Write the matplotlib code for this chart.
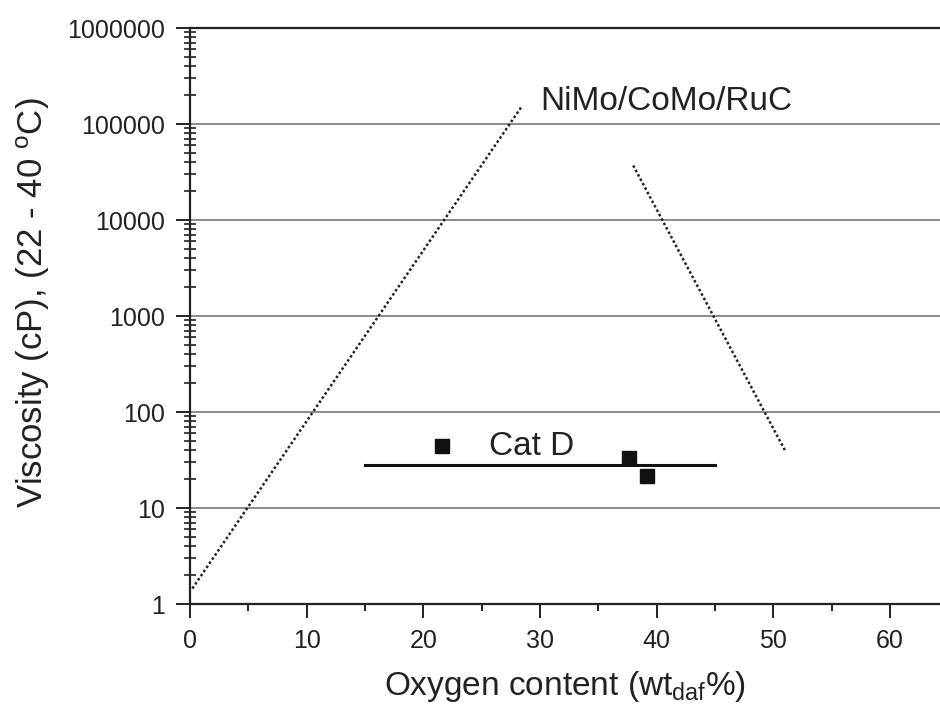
import matplotlib
matplotlib.use("Agg")
import matplotlib.pyplot as plt
from matplotlib.ticker import LogLocator, FixedLocator, NullFormatter

plt.rcParams['font.family'] = ['Liberation Sans', 'DejaVu Sans']
plt.rcParams['mathtext.fontset'] = 'custom'
plt.rcParams['mathtext.rm'] = 'Liberation Sans'
plt.rcParams['mathtext.it'] = 'Liberation Sans'

# Data
nimo_x = [0.2, 28.4]
nimo_y = [1.45, 150000]
trend2_x = [38.0, 51.0]
trend2_y = [37000, 40]
catd_fit_x = [15, 45]
catd_fit_y = [28, 28]
catd_x = [21.6, 37.6, 39.2]
catd_y = [44, 33, 21.5]
x_ticks = [0, 10, 20, 30, 40, 50, 60]
y_ticks = [1, 10, 100, 1000, 10000, 100000, 1000000]
y_tick_labels = ['1', '10', '100', '1000', '10000', '100000', '1000000']

fig = plt.figure(figsize=(9.4, 7.07), dpi=100)
ax = fig.add_axes([190/940, 1-604/707, 750/940, 576/707])
ax.set_yscale('log')
ax.set_xlim(0, 64.3)
ax.set_ylim(1, 1000000)

# gridlines
for yv in y_ticks[1:]:
    ax.axhline(yv, color='#8a8a8a', lw=1.4, zorder=1)

ax.plot(nimo_x, nimo_y, color='#222222', lw=1.8, ls=(0, (1.0, 1.0)), zorder=2)
ax.plot(trend2_x, trend2_y, color='#222222', lw=1.8, ls=(0, (1.0, 1.0)), zorder=2)
ax.plot(catd_fit_x, catd_fit_y, color='#111111', lw=2.2, zorder=3)
ax.plot(catd_x, catd_y, 's', color='#111111', markersize=10.5, zorder=4)

ax.text(30.0, 140000, 'NiMo/CoMo/RuC', fontsize=24, ha='left', va='baseline', color='#222222')
ax.text(29.3, 35.5, 'Cat D', fontsize=24, ha='center', va='baseline', color='#222222')

ax.xaxis.set_major_locator(FixedLocator(x_ticks))
ax.xaxis.set_minor_locator(FixedLocator([5, 15, 25, 35, 45, 55]))
ax.set_yticks(y_ticks)
ax.set_yticklabels(y_tick_labels)
ax.yaxis.set_minor_locator(LogLocator(base=10, subs=range(2, 10), numticks=20))
ax.yaxis.set_minor_formatter(NullFormatter())

ax.tick_params(axis='both', which='major', labelsize=18, colors='#222222', width=1.4)
ax.tick_params(axis='x', which='major', direction='out', length=10, pad=8)
ax.tick_params(axis='x', which='minor', direction='out', length=5, width=1.4, colors='#222222')
ax.tick_params(axis='y', which='major', direction='out', length=10, pad=8)
ax.tick_params(axis='y', which='minor', direction='inout', length=8, width=1.2, colors='#222222')

for s in ['left', 'bottom', 'top']:
    ax.spines[s].set_linewidth(1.6)
    ax.spines[s].set_color('#222222')
ax.spines['right'].set_visible(False)

ax.set_xlabel(r'Oxygen content (wt$_{\mathrm{daf}}$%)', fontsize=24, color='#222222')
ax.set_ylabel(r'Viscosity (cP), (22 - 40 $^{\mathrm{o}}$C)', fontsize=25, color='#222222')
ax.xaxis.set_label_coords(0.5, -0.113)
ax.yaxis.set_label_coords(-0.184, 0.523)

fig.savefig('out.png', dpi=100)
